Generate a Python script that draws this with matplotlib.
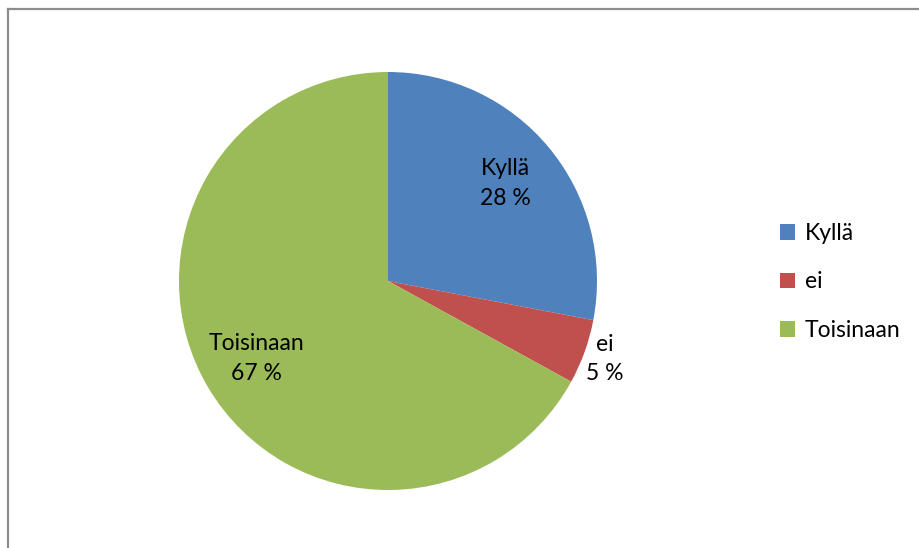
import numpy as np
import matplotlib
matplotlib.use("Agg")
import matplotlib.pyplot as plt
from matplotlib.lines import Line2D
from matplotlib.patches import Patch

categories = ["Kyllä", "ei", "Toisinaan"]
values = [28, 5, 67]
colors = ["#4F81BD", "#C0504D", "#9BBB59"]
label_radius = [0.73, 1.10, 0.73]

plt.rcParams["font.family"] = ["Lato", "DejaVu Sans"]
FS = 16.5

W, H = 920, 548
fig = plt.figure(figsize=(W / 100, H / 100), dpi=100)

# chart frame (only top and left edges visible in the crop)
fig.add_artist(Line2D([8 / W, 8 / W], [0, 1 - 9 / H], color="#8c8c8c", lw=1.6,
                      transform=fig.transFigure))
fig.add_artist(Line2D([8 / W, 1], [1 - 9 / H, 1 - 9 / H], color="#8c8c8c", lw=1.6,
                      transform=fig.transFigure))

cx, cy, r = 388, 281, 209
ax = fig.add_axes([(cx - r) / W, (H - cy - r) / H, 2 * r / W, 2 * r / H])
wedges, _ = ax.pie(values, colors=colors, startangle=90, counterclock=False,
                   radius=1.0, wedgeprops=dict(linewidth=0))
ax.set_xlim(-1, 1)
ax.set_ylim(-1, 1)
ax.set_aspect("equal")
ax.axis("off")

total = sum(values)
for w, cat, v, lr in zip(wedges, categories, values, label_radius):
    ang = np.deg2rad((w.theta1 + w.theta2) / 2)
    ax.text(lr * np.cos(ang), lr * np.sin(ang), f"{cat}\n{round(100 * v / total)} %",
            ha="center", va="center", fontsize=FS, color="#000000",
            linespacing=1.5, clip_on=False)

handles = [Patch(facecolor=c, edgecolor="none") for c in colors]
fig.legend(handles, categories, loc="center left", bbox_to_anchor=(759 / W, 1 - 282 / H),
           frameon=False, fontsize=FS, handlelength=0.65, handleheight=0.65,
           handletextpad=0.45, labelspacing=1.2)

fig.savefig("out.png", dpi=100)
